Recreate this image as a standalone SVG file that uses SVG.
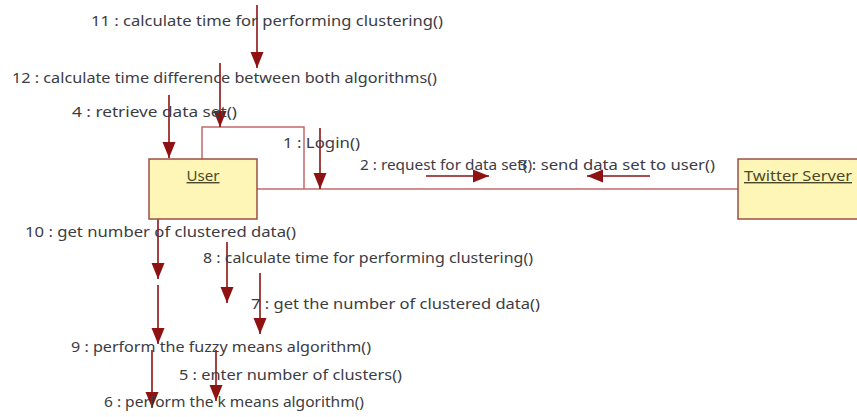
<svg xmlns="http://www.w3.org/2000/svg" width="857" height="417" viewBox="0 0 857 417">
  <style>
    .obj { fill: #fdf6b6; stroke: #9a5044; stroke-width: 1.5; }
    .name { font-family: "Noto Sans", "Liberation Sans", sans-serif; font-size: 14px; fill: #4a4a2a; text-decoration: underline; }
    .link { fill: none; stroke: #c46a6a; stroke-width: 1.5; }
    .msg { stroke: #8e1212; stroke-width: 1.6; fill: none; marker-end: url(#head); }
    .lbl { font-family: "Noto Sans", "Liberation Sans", sans-serif; font-size: 14px; fill: #3c3c44; }
  </style>
  <defs>
    <marker id="head" markerUnits="userSpaceOnUse" markerWidth="18" markerHeight="14" refX="16" refY="6.5" orient="auto">
      <path d="M0,0 L16,6.5 L0,13 z" fill="#8e1212"/>
    </marker>
  </defs>
  <rect width="857" height="417" fill="#ffffff"/>

  <!-- links between objects -->
  <g id="connectors">
    <polyline class="link" points="202,159 202,127 304,127 304,189"/>
    <line class="link" x1="257" y1="189" x2="738" y2="189"/>

    <!-- message arrows -->
    <line class="msg" x1="320" y1="128" x2="320" y2="189"/>
    <line class="msg" x1="426" y1="176" x2="489" y2="176"/>
    <line class="msg" x1="650" y1="176" x2="587" y2="176"/>
    <line class="msg" x1="169" y1="95" x2="169" y2="158"/>
    <line class="msg" x1="216" y1="350" x2="216" y2="401"/>
    <line class="msg" x1="152" y1="350" x2="152" y2="408"/>
    <line class="msg" x1="260" y1="273" x2="260" y2="334"/>
    <line class="msg" x1="227" y1="242" x2="227" y2="303"/>
    <line class="msg" x1="158" y1="285" x2="158" y2="344"/>
    <line class="msg" x1="158" y1="217" x2="158" y2="279"/>
    <line class="msg" x1="257" y1="5" x2="257" y2="68"/>
    <line class="msg" x1="220" y1="63" x2="220" y2="127"/>

    <!-- message labels -->
    <text class="lbl" x="283" y="148" textLength="77" lengthAdjust="spacingAndGlyphs">1 : Login()</text>
    <text class="lbl" x="360" y="170" textLength="172" lengthAdjust="spacingAndGlyphs">2 : request for data set()</text>
    <text class="lbl" x="518" y="170" textLength="197" lengthAdjust="spacingAndGlyphs">3 : send data set to user()</text>
    <text class="lbl" x="72" y="117" textLength="165" lengthAdjust="spacingAndGlyphs">4 : retrieve data set()</text>
    <text class="lbl" x="179" y="380" textLength="223" lengthAdjust="spacingAndGlyphs">5 : enter number of clusters()</text>
    <text class="lbl" x="104" y="407" textLength="260" lengthAdjust="spacingAndGlyphs">6 : perform the k means algorithm()</text>
    <text class="lbl" x="251" y="309" textLength="289" lengthAdjust="spacingAndGlyphs">7 : get the number of clustered data()</text>
    <text class="lbl" x="203" y="263" textLength="330" lengthAdjust="spacingAndGlyphs">8 : calculate time for performing clustering()</text>
    <text class="lbl" x="71" y="352" textLength="300" lengthAdjust="spacingAndGlyphs">9 : perform the fuzzy means algorithm()</text>
    <text class="lbl" x="25" y="237" textLength="271" lengthAdjust="spacingAndGlyphs">10 : get number of clustered data()</text>
    <text class="lbl" x="91" y="26" textLength="352" lengthAdjust="spacingAndGlyphs">11 : calculate time for performing clustering()</text>
    <text class="lbl" x="12" y="83" textLength="425" lengthAdjust="spacingAndGlyphs">12 : calculate time difference between both algorithms()</text>
  </g>

  <g id="user">
    <rect class="obj" x="149" y="159" width="108" height="60"/>
    <text class="name" x="203" y="181" text-anchor="middle" textLength="33" lengthAdjust="spacingAndGlyphs">User</text>
  </g>

  <g id="twitter-server">
    <rect class="obj" x="738" y="159" width="130" height="60"/>
    <text class="name" x="744" y="181" textLength="108" lengthAdjust="spacingAndGlyphs">Twitter Server</text>
  </g>
</svg>
